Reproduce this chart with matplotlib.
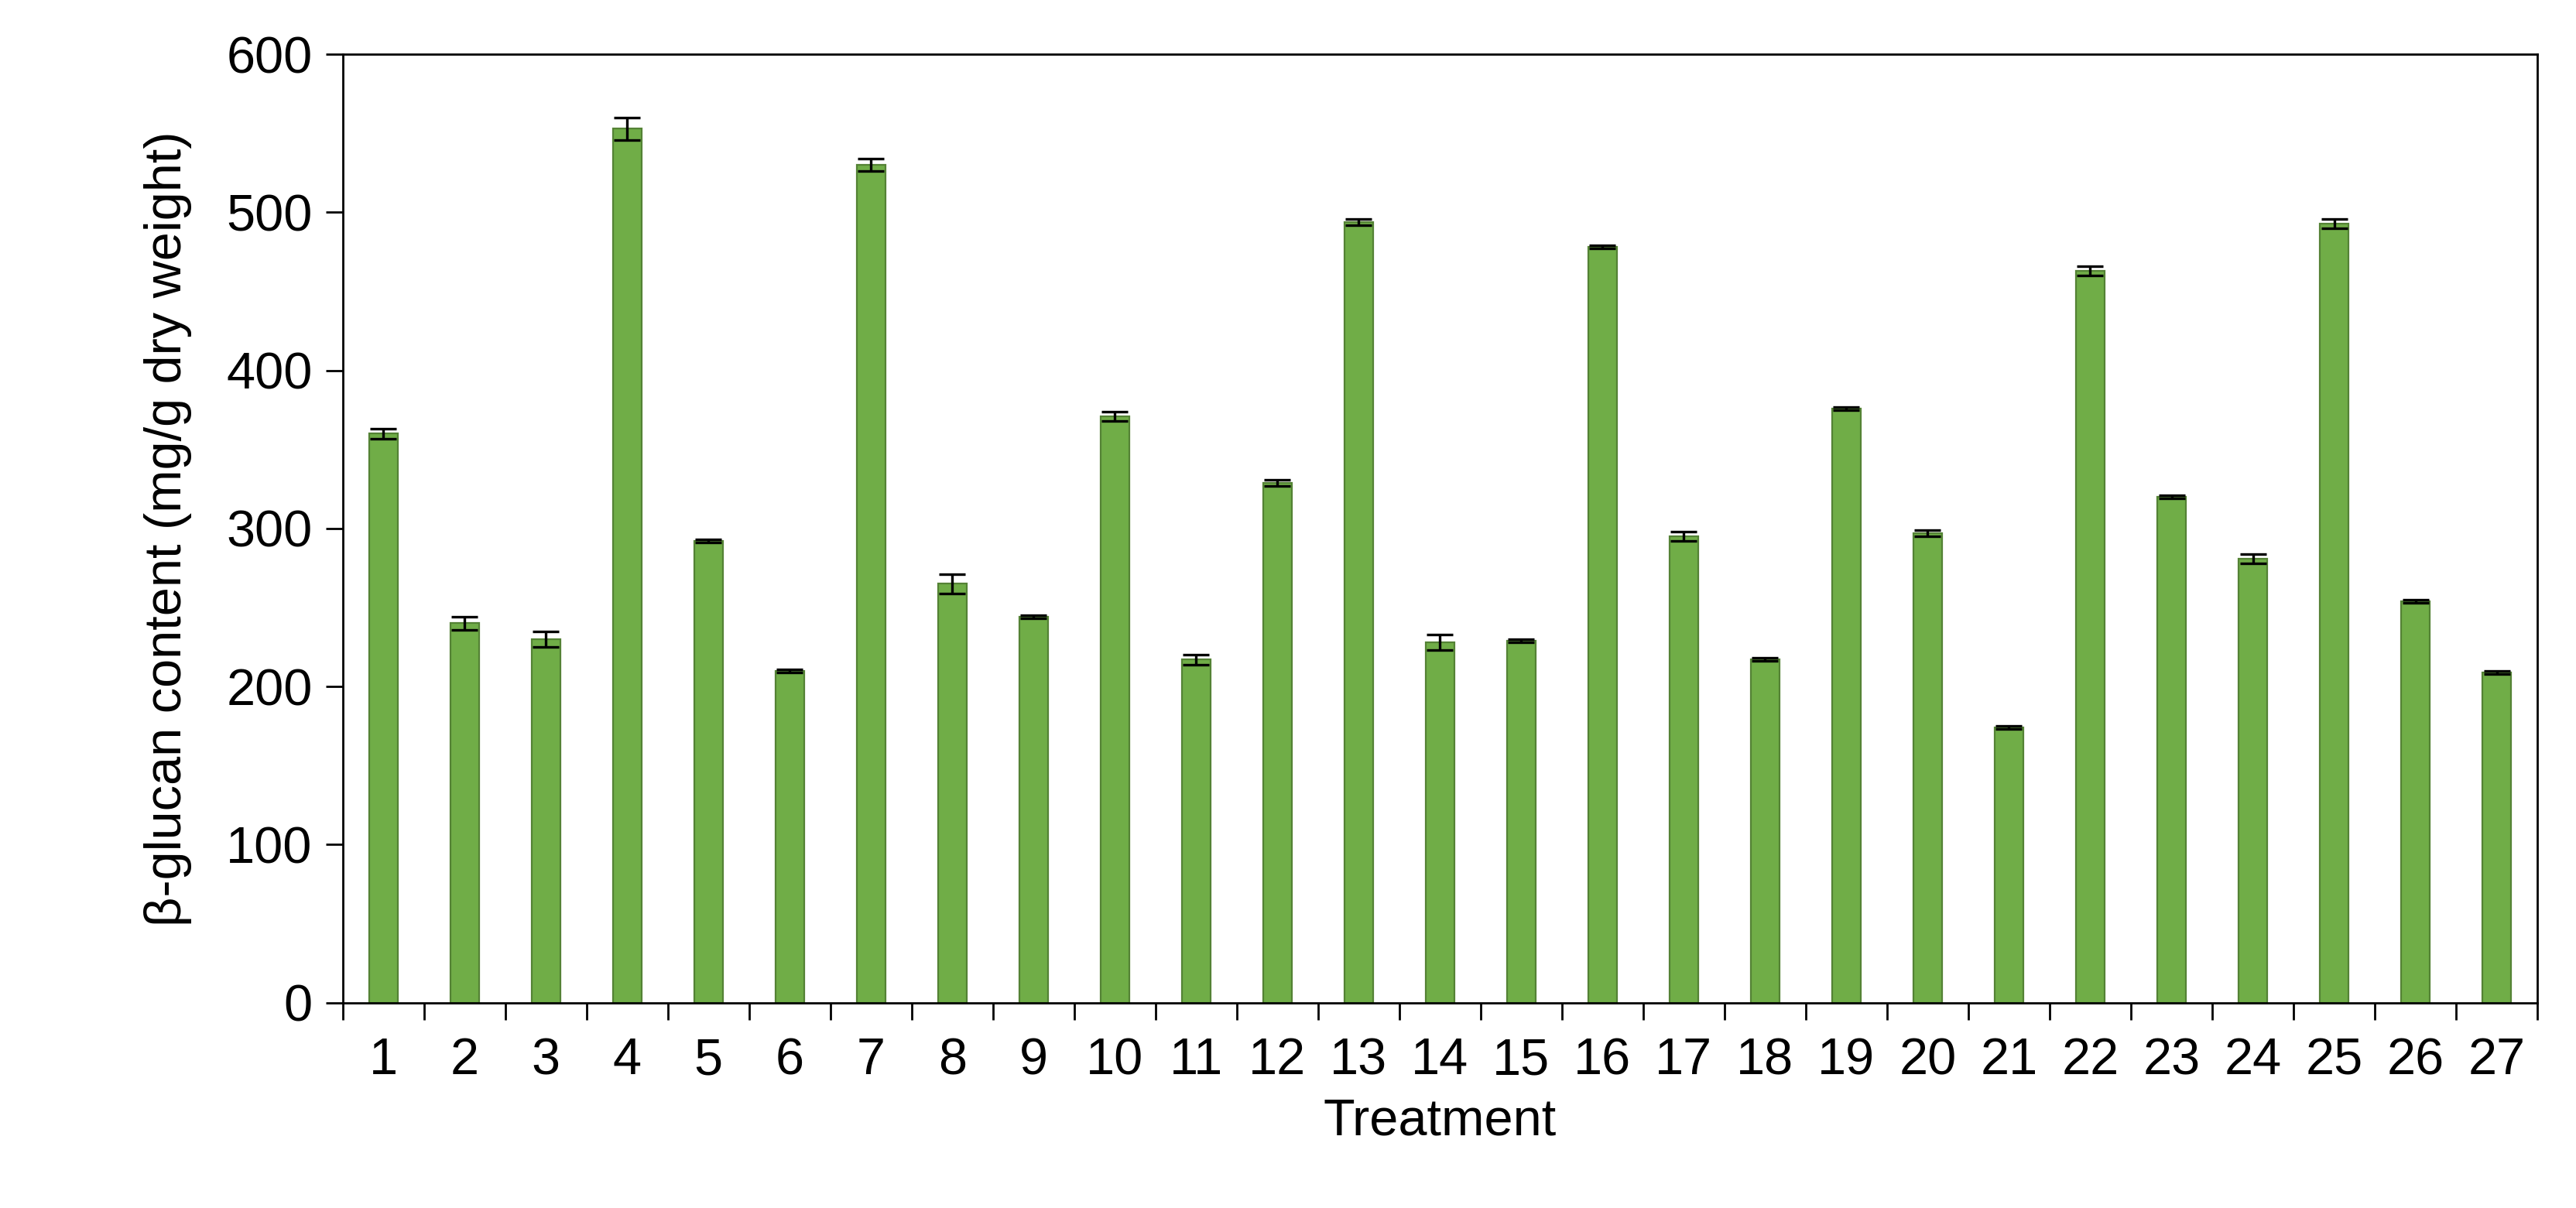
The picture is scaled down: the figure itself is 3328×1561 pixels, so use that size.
import matplotlib
matplotlib.use('Agg')
import matplotlib.pyplot as plt
import numpy as np

treatments = [str(i) for i in range(1, 28)]
glucan = [360, 240, 230, 553, 292, 210, 530, 265, 244, 371, 217, 329, 494, 228,
          229, 478, 295, 217, 376, 297, 174, 463, 320, 281, 493, 254, 209]
errors = [3, 4, 5, 7, 1, 1, 4, 6, 1, 3, 3, 2, 2, 5, 1, 1, 3, 1, 1, 2, 1, 3, 1, 3, 3, 1, 1]

plt.rcParams['font.family'] = ['Liberation Sans', 'DejaVu Sans']

fig = plt.figure(figsize=(16.64, 7.805), dpi=200)
ax = fig.add_axes([0.133, 0.170, 0.852, 0.785])

x = np.arange(len(treatments))
ax.bar(x, glucan, width=0.35, color='#70AD47', edgecolor='#548235', linewidth=0.8,
       yerr=errors, capsize=6, error_kw={'elinewidth': 1.2, 'capthick': 1.2, 'ecolor': 'black'})

ax.set_xlim(-0.5, len(treatments) - 0.5)
ax.set_ylim(0, 600)
ax.set_yticks(range(0, 601, 100))
ax.set_xticks(x)
ax.set_xticklabels(treatments)
ax.set_xticks(np.arange(-0.5, len(treatments), 1), minor=True)
ax.tick_params(axis='x', which='major', length=0, labelsize=24, pad=16)
ax.tick_params(axis='x', which='minor', length=8, width=1)
ax.tick_params(axis='y', labelsize=24, length=8, width=1, pad=6)
for s in ax.spines.values():
    s.set_linewidth(1)

ax.set_xlabel('Treatment', fontsize=24, labelpad=6)
ax.set_ylabel('β-glucan content (mg/g dry weight)', fontsize=24, labelpad=16)

fig.savefig('out.png')
